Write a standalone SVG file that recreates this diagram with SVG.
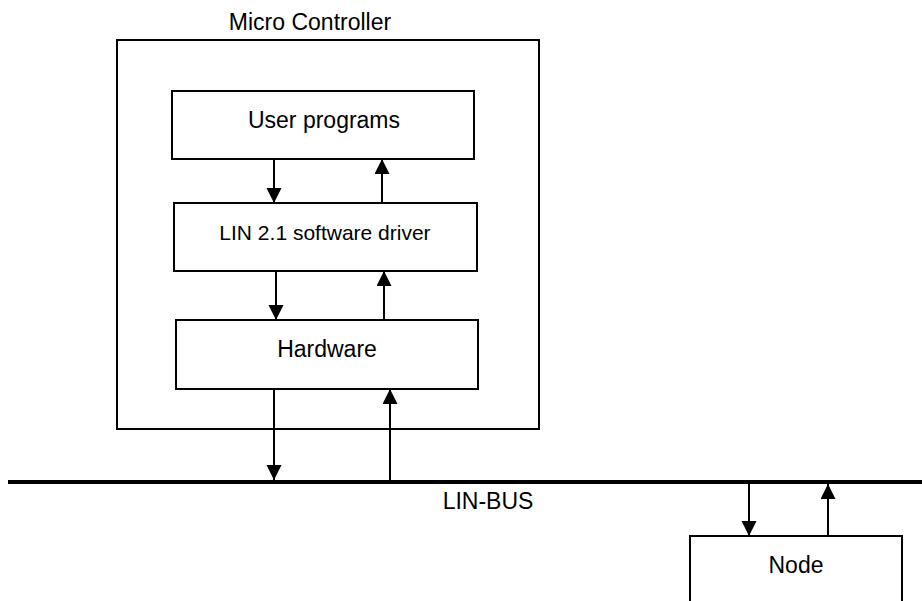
<svg xmlns="http://www.w3.org/2000/svg" width="922" height="601" viewBox="0 0 922 601">
<defs>
<style>
.box{fill:#fff;stroke:#000;stroke-width:2}
.t{font-family:"Liberation Sans",Arial,sans-serif;font-size:23px;fill:#000;text-anchor:middle}
.c{stroke:#000;stroke-width:2;fill:none}
</style>
<marker id="ah" markerUnits="userSpaceOnUse" markerWidth="16" markerHeight="16" viewBox="0 0 16 16" refX="15" refY="7.5" orient="auto">
<path d="M0,0 L15,7.5 L0,15 Z" fill="#000"/>
</marker>
</defs>
<rect width="922" height="601" fill="#fff"/>
<g id="micro-controller">
<rect class="box" x="117" y="40" width="422" height="389"/>
<text class="t" x="310" y="30">Micro Controller</text>
</g>
<g id="user-programs">
<rect class="box" x="172" y="91" width="302" height="68"/>
<text class="t" x="324" y="128">User programs</text>
</g>
<g id="lin-driver">
<rect class="box" x="174" y="203" width="303" height="68"/>
<text class="t" x="325" y="240" style="font-size:21px">LIN 2.1 software driver</text>
</g>
<g id="hardware">
<rect class="box" x="176" y="320" width="302" height="69"/>
<text class="t" x="327" y="357">Hardware</text>
</g>
<g id="lin-bus">
<line x1="8" y1="482" x2="922" y2="482" stroke="#000" stroke-width="4"/>
<text class="t" x="488" y="509">LIN-BUS</text>
</g>
<g id="node">
<rect class="box" x="690" y="536" width="212" height="80"/>
<text class="t" x="796" y="573">Node</text>
</g>
<g id="connectors">
<line class="c" x1="274" y1="159" x2="274" y2="203" marker-end="url(#ah)"/>
<line class="c" x1="382" y1="203" x2="382" y2="159" marker-end="url(#ah)"/>
<line class="c" x1="276" y1="271" x2="276" y2="320" marker-end="url(#ah)"/>
<line class="c" x1="384" y1="320" x2="384" y2="271" marker-end="url(#ah)"/>
<line class="c" x1="274" y1="389" x2="274" y2="480" marker-end="url(#ah)"/>
<line class="c" x1="390" y1="480" x2="390" y2="389" marker-end="url(#ah)"/>
<line class="c" x1="749" y1="484" x2="749" y2="536" marker-end="url(#ah)"/>
<line class="c" x1="828" y1="536" x2="828" y2="484" marker-end="url(#ah)"/>
</g>
</svg>
